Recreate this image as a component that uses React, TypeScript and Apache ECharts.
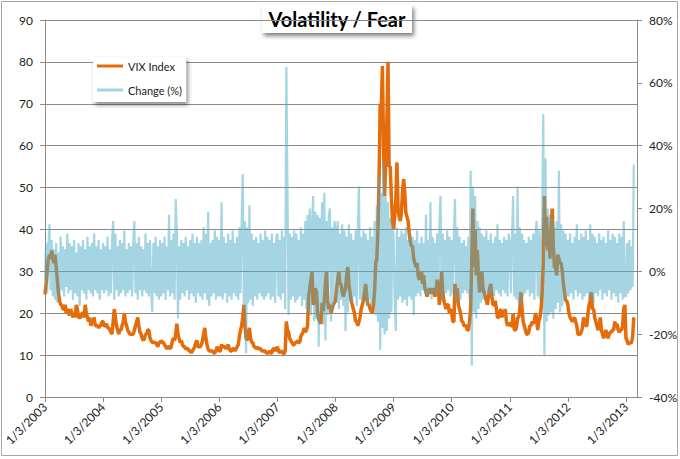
import React, { useEffect, useRef } from 'react';
import * as echarts from 'echarts';

// Weekly VIX Index closes, one array per year
const vix2003 = [24.5, 27, 30, 33, 34, 33, 35, 33, 32, 34, 31, 28, 25, 23, 22, 22, 21, 21, 22, 20, 21, 20, 19.5, 21, 20, 19, 20, 19, 22, 21, 19, 19, 19, 20, 20, 19, 22, 20, 19, 18, 19, 17, 18, 18, 19, 17, 17, 17, 16.5, 17, 17, 18];
const vix2004 = [18, 17, 17, 17.5, 16.5, 16.5, 16, 15.5, 15, 18, 21, 19, 17, 16, 15, 16, 16, 17, 18, 20, 18, 17, 16, 15.5, 15, 15, 15, 15, 16, 17, 18, 19, 17, 15.5, 15, 14, 13.5, 14, 15, 15, 16, 16, 14, 13.5, 13, 13, 13, 13, 12.5, 12, 13, 13];
const vix2005 = [13.5, 13, 13, 12.5, 12, 11.5, 12, 12, 11.5, 12, 13.5, 14, 13.5, 15, 17.5, 15, 14, 13, 13.5, 12.5, 12, 12, 11.5, 11.5, 11.5, 11, 11, 10.5, 11, 11.5, 12, 13, 13.5, 12, 12, 12, 12.5, 13.5, 15, 16.5, 14, 12.5, 11.5, 11, 11, 11, 11, 10.5, 10.5, 11, 12, 11.5];
const vix2006 = [11, 11, 12.5, 12, 12, 12, 11.5, 12, 12.5, 11.5, 11, 11, 11.5, 11.5, 11, 11.5, 12, 12.5, 14.5, 16, 17, 19, 22, 17, 14, 13.5, 15, 16.5, 14, 13, 13, 12, 12, 11.5, 12, 11.5, 11.5, 11.5, 11, 11, 11, 11, 10.5, 10.5, 10.5, 11, 10.5, 10.5, 11.5, 11.5, 11, 11.5];
const vix2007 = [12, 11, 10.5, 11, 10.8, 10.5, 10.3, 11, 18, 16, 15.5, 14, 13.5, 13, 12.5, 12.5, 13, 13, 13.5, 13, 13, 14.5, 15, 15.5, 16.5, 15.5, 16, 17, 24, 26, 28, 30, 22, 23, 26, 25, 20, 18.5, 18, 17.5, 22.5, 20.5, 23, 27, 30, 23, 21, 22, 20, 21, 22, 22.5];
const vix2008 = [23, 26, 28, 30, 27, 27, 25, 24, 25, 26, 29, 31, 27, 25, 23, 22, 21, 20, 18, 18, 17, 18, 19, 21, 22, 23, 25, 27, 24, 22, 22, 21, 20.5, 20, 22, 25, 32, 33, 40, 52, 70, 69, 79, 60, 48, 57, 66, 80, 55, 55, 48, 42];
const vix2009 = [40, 43, 47, 56, 45, 43, 42, 44, 49, 52, 49, 44, 43, 42, 39, 37, 36, 36, 33, 32, 31, 32, 29, 28, 29, 30, 27, 29, 26, 25, 24, 25, 26, 25, 25, 26, 25, 24, 25, 28, 26, 22, 25, 30, 25, 23, 22, 21, 22, 22, 20, 21];
const vix2010 = [20, 18, 18, 27, 24, 26, 22, 21, 20, 18, 18, 17, 17, 17, 16, 16, 18, 21, 33, 45, 31, 40, 29, 35, 29, 25, 29, 30, 26, 25, 24, 23, 22, 24, 26, 27, 24, 22, 22, 23, 21, 19, 19, 20, 21, 19, 20, 20, 21, 18, 17, 17.5];
const vix2011 = [17.5, 17, 17, 20, 16, 16, 16.5, 19, 19, 21, 25, 21, 18, 17, 16, 15, 15, 15.5, 17, 17, 18, 17.5, 18, 20, 19, 16, 18, 19, 21, 25, 32, 48, 36, 43, 35, 38, 33, 41, 45, 36, 31, 31, 29, 34, 33, 32, 32, 30, 27, 25, 23, 23];
const vix2012 = [22, 20, 19, 18.5, 18, 18.5, 19, 18, 17, 15, 15, 15, 15.5, 16.5, 19, 18, 17, 17, 20, 22, 23, 25, 21, 21, 19, 18, 17, 16, 17, 19, 16, 15, 14, 15, 16, 15, 14, 15, 15.5, 15.5, 16, 16, 18, 17, 17.5, 16, 15.5, 16, 16, 17, 21, 22];
const vix2013 = [14, 13.5, 12.5, 13, 12.9, 13, 14.5, 19];

// Change (%) extremes, one array per year
const chg2003 = [-3, 9, -7, 8, 15, -6, 10, -8, 7, -9, 9, -10, 6, -7, 11, -6, 8, -8, 7, -5, 12, -7, 9, -6, 8, -9, 10, -7, 6, -8, 9, -11, 8, -6, 10, -7, 7, -9, 11, -6, 8, -7, 9, -8, 12, -6, 8, -7, 10, -9, 7, -6];
const chg2004 = [9, -7, 8, -6, 11, -8, 7, -7, 10, 16, -9, 12, -6, 8, -8, 10, -7, 9, -6, 13, -8, 7, -7, 9, -6, 8, -8, 10, 16, -7, 9, -9, 11, -6, 8, -8, 7, -6, 12, -7, 9, -8, 10, -6, -13, 9, -7, 11, -8, 8, -9, 10];
const chg2005 = [-8, 9, -7, 11, -9, 8, -6, 18, -8, 10, -7, 12, -9, 23, 13, -15, 8, -9, 10, -7, 9, -8, 11, -6, 8, -9, 10, -7, 12, -8, 9, -10, 11, -7, 9, -8, 10, -9, 14, -7, 12, -9, 19, -11, 9, -8, 10, -7, 13, -9, 11, -8];
const chg2006 = [10, -8, 22, -9, 11, -7, 9, -10, 12, -8, 10, -9, 13, -7, 9, -8, 11, -9, 14, -7, 15, 31, -12, 16, -26, 14, -10, 21, -9, 12, -11, 10, -8, 11, -9, 9, -7, 12, -8, 10, -9, 13, -8, 11, -7, 10, -9, 12, -8, 9, -10, 11];
const chg2007 = [12, -8, 10, -9, 13, -7, 11, -12, 65, 27, -14, 12, -9, 11, -8, 13, -10, 12, -9, 10, -8, 14, -11, 12, -9, 16, -12, 18, -13, 20, -14, 15, 24, -16, 19, -15, 18, -24, 17, -13, 22, -17, 25, -22, 16, -14, 18, 20, -16, 14, -12, 16];
const chg2008 = [14, -10, 16, -12, 12, -9, 15, -11, 13, -19, 11, -13, 15, -9, 12, -10, 10, -8, 13, -11, 12, 27, -9, 11, -10, 13, -8, 12, -11, 10, -9, 14, -12, 11, -10, 16, -14, 21, -16, 30, -25, 25, -18, 35, -20, 24, -19, 22, -15, 17, -13, 14];
const chg2009 = [12, -10, -19, 14, -9, 11, -8, 13, -10, 12, -9, 14, -11, 10, -8, 12, -9, 11, -14, 10, -8, 13, -7, 9, -8, 11, -6, 9, -7, 18, -8, 10, -7, 22, -9, 11, -6, 9, -8, 12, -7, 15, 24, -9, 12, -8, 10, -7, 13, -6, 11, -8];
const chg2010 = [10, -7, 12, 23, -10, 14, -8, 11, -9, 9, -7, 10, -6, 8, -7, 11, -9, 32, -30, 27, -13, 24, -15, 16, -12, 14, -10, 12, -9, 11, -8, 13, -7, 10, -8, 12, -7, 9, -8, 11, -6, 15, -7, 10, -8, 9, -6, 11, -7, 10, -8, 12];
const chg2011 = [9, -7, 11, 24, -8, 12, -9, 27, -10, 14, -11, 12, -8, 10, -7, 9, -6, 11, -8, 10, -7, 12, -9, 11, 16, -8, 13, -9, 11, 15, 50, -27, 36, -16, 20, -14, 18, -13, 17, -15, 14, -12, 16, -10, 32, -13, 15, -11, 13, -9, 12, -8];
const chg2012 = [10, -8, 12, -7, 9, -9, 11, -6, 15, -8, 10, -7, 12, -9, 11, -8, 13, -7, 10, -9, 15, -8, 12, -10, 11, -7, 9, -8, 12, -6, 10, -9, 11, -7, 9, -8, 13, -6, 10, -9, 12, -7, 11, -8, 9, -10, 12, -7, 11, -9, 16, -8];
const chg2013 = [-8, 9, -7, 10, -6, 8, -5, 34];

const firstYear = 2003;
const vixByYear = [vix2003, vix2004, vix2005, vix2006, vix2007, vix2008, vix2009, vix2010, vix2011, vix2012, vix2013];
const chgByYear = [chg2003, chg2004, chg2005, chg2006, chg2007, chg2008, chg2009, chg2010, chg2011, chg2012, chg2013];

const xTickYears = [2003, 2004, 2005, 2006, 2007, 2008, 2009, 2010, 2011, 2012, 2013];
const xTickPrefix = '1/3/';
const seriesNames = ['VIX Index', 'Change (%)'];
const titleText = 'Volatility / Fear';

function toPoints(byYear: number[][]): [number, number][] {
  const out: [number, number][] = [];
  byYear.forEach((arr, i) => {
    const year = firstYear + i;
    arr.forEach((v, w) => out.push([year + w / 52, v]));
  });
  return out;
}

const FONT = 'Lato, "Open Sans", sans-serif';
const GRID_GRAY = '#8a8a8a';

export default function App() {
  const ref = useRef<HTMLDivElement>(null);
  useEffect(() => {
    if (!ref.current) return;
    const chart = echarts.init(ref.current, undefined, { renderer: 'svg' });
    const axisLabelStyle = { color: '#222', fontSize: 12, fontFamily: FONT };
    chart.setOption({
      animation: false,
      backgroundColor: '#fff',
      grid: { left: 45, right: 41, top: 20, bottom: 62 },
      legend: {
        orient: 'vertical',
        left: 93,
        top: 57,
        padding: [2, 4, 5, 4],
        itemGap: 10,
        itemWidth: 26,
        itemHeight: 3,
        icon: 'rect',
        backgroundColor: '#fff',
        shadowBlur: 4,
        shadowColor: 'rgba(0,0,0,0.45)',
        shadowOffsetX: 2,
        shadowOffsetY: 3,
        textStyle: { fontSize: 11, color: '#222', fontFamily: FONT, lineHeight: 14 },
        data: [
          { name: seriesNames[0], itemStyle: { color: '#E46C0A' } },
          { name: seriesNames[1], itemStyle: { color: '#A5D5E2' } },
        ],
      },
      xAxis: {
        type: 'value',
        min: 2003,
        max: 2013.19,
        interval: 1,
        axisLine: { show: true, lineStyle: { color: GRID_GRAY } },
        axisTick: { show: true, length: 5, lineStyle: { color: GRID_GRAY }, customValues: xTickYears },
        splitLine: { show: false },
        axisLabel: {
          ...axisLabelStyle,
          rotate: 45,
          margin: 8,
          customValues: xTickYears,
          formatter: (v: number) => (Math.abs(v - Math.round(v)) < 1e-6 ? xTickPrefix + Math.round(v) : ''),
        },
      },
      yAxis: [
        {
          type: 'value',
          min: 0,
          max: 90,
          interval: 10,
          axisLine: { show: true, lineStyle: { color: GRID_GRAY } },
          axisTick: { show: true, length: 5, lineStyle: { color: GRID_GRAY } },
          splitLine: { show: true, lineStyle: { color: GRID_GRAY, width: 1 } },
          axisLabel: { ...axisLabelStyle, margin: 12 },
        },
        {
          type: 'value',
          min: -40,
          max: 80,
          interval: 20,
          position: 'right',
          axisLine: { show: true, lineStyle: { color: GRID_GRAY } },
          axisTick: { show: true, length: 5, lineStyle: { color: GRID_GRAY } },
          splitLine: { show: false },
          axisLabel: { ...axisLabelStyle, margin: 12, formatter: '{value}%' },
        },
      ],
      series: [
        {
          name: seriesNames[0],
          type: 'line',
          yAxisIndex: 0,
          data: toPoints(vixByYear),
          showSymbol: false,
          symbol: 'none',
          color: '#E46C0A',
          lineStyle: { color: '#E46C0A', width: 3.5, join: 'bevel' },
          z: 2,
        },
        {
          name: seriesNames[1],
          type: 'line',
          yAxisIndex: 1,
          data: toPoints(chgByYear),
          showSymbol: false,
          symbol: 'none',
          color: '#4BACC6',
          lineStyle: { color: '#4BACC6', width: 2.2, opacity: 0.5, join: 'bevel' },
          z: 3,
        },
      ],
      graphic: [
        {
          type: 'rect',
          z: -10,
          silent: true,
          shape: { x: 1.5, y: 1.5, width: 676, height: 454 },
          style: { fill: 'none', stroke: '#a6a6a6', lineWidth: 1 },
        },
        {
          type: 'group',
          z: 100,
          children: [
            {
              type: 'rect',
              shape: { x: 262, y: 5, width: 150, height: 28 },
              style: { fill: '#fff', shadowBlur: 4, shadowColor: 'rgba(0,0,0,0.5)', shadowOffsetX: 2, shadowOffsetY: 3 },
            },
            {
              type: 'text',
              x: 337,
              y: 19,
              style: {
                text: titleText,
                fill: '#000',
                font: 'bold 20px ' + FONT,
                align: 'center',
                verticalAlign: 'middle',
              },
            },
          ],
        },
      ],
    });
    return () => chart.dispose();
  }, []);
  return (
    <div
      ref={ref}
      style={{ position: 'fixed', left: 0, top: 0, width: 680, height: 459, background: '#fff' }}
    />
  );
}
